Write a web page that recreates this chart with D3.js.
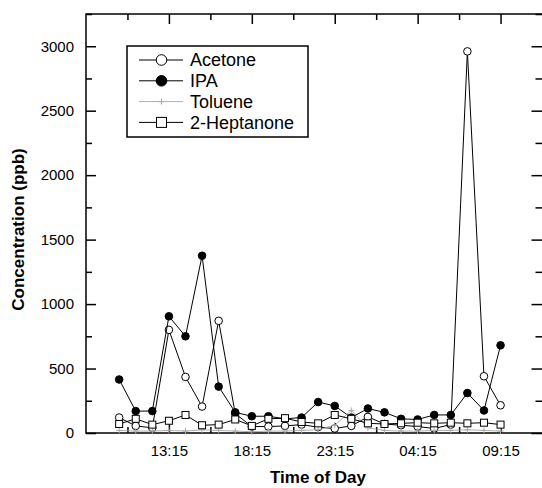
<!DOCTYPE html>
<html>
<head>
<meta charset="utf-8">
<script src="https://cdn.jsdelivr.net/npm/d3@7"></script>
<style>
  body { margin: 0; background: #fff; }
  svg { display: block; font-family: "Liberation Sans", Arial, sans-serif; }
</style>
</head>
<body>
<div id="graph"></div>
<script>
// sampling times, one per hour
const times = ["10:15","11:15","12:15","13:15","14:15","15:15","16:15","17:15","18:15","19:15","20:15","21:15",
               "22:15","23:15","00:15","01:15","02:15","03:15","04:15","05:15","06:15","07:15","08:15","09:15"];
const acetone   = [120, 55, 40, 800, 435, 205, 870, 150, 50, 50, 55, 65, 45, 35, 55, 125, 70, 60, 50, 35, 65, 2960, 440, 215];
const ipa       = [415, 170, 170, 905, 750, 1375, 360, 160, 130, 130, 110, 120, 240, 210, 120, 190, 160, 110, 105, 140, 140, 310, 175, 680];
const toluene   = [20, 15, 15, 20, 15, 25, 20, 15, 10, 15, 15, 20, 25, 60, 175, 40, 20, 15, 15, 20, 20, 25, 20, 15];
const heptanone = [70, 110, 65, 95, 140, 60, 65, 105, 55, 110, 115, 85, 75, 140, 110, 75, 70, 75, 80, 75, 80, 75, 80, 65];
const xTickLabels = ["13:15", "18:15", "23:15", "04:15", "09:15"];
const yTicks = [0, 500, 1000, 1500, 2000, 2500, 3000];

let width = 542;
let height = 488;
let plotL = 86, plotR = 543.5, plotT = 14, plotB = 433;

let svg = d3.select("#graph").append("svg").attr("width", width).attr("height", height);

// x is hours after 10:15, axis runs 08:15 .. 11:45 next day
let x = d3.scaleLinear().domain([-2, 25.5]).range([plotL, 542]);
let y = d3.scaleLinear().domain([0, 3250]).range([plotB, plotT]);

let labelPos = xTickLabels.map(function(t) { return times.indexOf(t); });
let minorX = [0.5, 5.5, 10.5, 15.5, 20.5];
let minorY = [250, 750, 1250, 1750, 2250, 2750, 3250];

function styleAxis(g) {
  g.select(".domain").remove();
  g.selectAll("line").attr("stroke", "#000").attr("stroke-width", 1.5);
  g.selectAll("text").attr("font-size", "15px").attr("fill", "#000");
}

// bottom axis with labels
svg.append("g").attr("transform", "translate(0," + plotB + ")")
  .call(d3.axisBottom(x).tickValues(labelPos).tickSize(-10).tickPadding(12)
    .tickFormat(function(d) { return times[d]; }))
  .call(styleAxis);
svg.append("g").attr("transform", "translate(0," + plotB + ")")
  .call(d3.axisBottom(x).tickValues(minorX).tickSize(-6).tickFormat(""))
  .call(styleAxis);
// top axis
svg.append("g").attr("transform", "translate(0," + plotT + ")")
  .call(d3.axisTop(x).tickValues(labelPos).tickSize(-10).tickFormat(""))
  .call(styleAxis);
svg.append("g").attr("transform", "translate(0," + plotT + ")")
  .call(d3.axisTop(x).tickValues(minorX).tickSize(-6).tickFormat(""))
  .call(styleAxis);
// left axis
svg.append("g").attr("transform", "translate(" + plotL + ",0)")
  .call(d3.axisLeft(y).tickValues(yTicks).tickSize(-10).tickPadding(12).tickFormat(d3.format("d")))
  .call(styleAxis);
svg.append("g").attr("transform", "translate(" + plotL + ",0)")
  .call(d3.axisLeft(y).tickValues(minorY).tickSize(-6).tickFormat(""))
  .call(styleAxis);
// right axis (its line sits just past the picture edge)
svg.append("g").attr("transform", "translate(" + plotR + ",0)")
  .call(d3.axisRight(y).tickValues(yTicks).tickSize(-12).tickFormat(""))
  .call(styleAxis);
svg.append("g").attr("transform", "translate(" + plotR + ",0)")
  .call(d3.axisRight(y).tickValues(minorY).tickSize(-8).tickFormat(""))
  .call(styleAxis);

// frame
svg.append("rect")
  .attr("x", plotL).attr("y", plotT)
  .attr("width", plotR - plotL).attr("height", plotB - plotT)
  .attr("fill", "none").attr("stroke", "#000").attr("stroke-width", 1.5);

// axis titles
svg.append("text")
  .attr("transform", "translate(24," + ((plotT + plotB) / 2 + 6) + ") rotate(-90)")
  .attr("text-anchor", "middle")
  .attr("font-size", "17px").attr("font-weight", "bold")
  .text("Concentration (ppb)");
svg.append("text")
  .attr("x", 318).attr("y", 483)
  .attr("text-anchor", "middle")
  .attr("font-size", "17px").attr("font-weight", "bold")
  .text("Time of Day");

let series = [
  { name: "Acetone", values: acetone, marker: "openCircle", color: "#000", lw: 1 },
  { name: "IPA", values: ipa, marker: "filledCircle", color: "#000", lw: 1 },
  { name: "Toluene", values: toluene, marker: "plus", color: "#999", lw: 0.8 },
  { name: "2-Heptanone", values: heptanone, marker: "square", color: "#000", lw: 1 }
];

function drawMarker(g, type, cx, cy, s) {
  if (type === "openCircle" || type === "filledCircle") {
    g.append("circle").attr("cx", cx).attr("cy", cy).attr("r", s)
      .attr("fill", type === "filledCircle" ? "#000" : "#fff")
      .attr("stroke", "#000").attr("stroke-width", 1);
  } else if (type === "square") {
    g.append("rect").attr("x", cx - s).attr("y", cy - s)
      .attr("width", 2 * s).attr("height", 2 * s)
      .attr("fill", "#fff").attr("stroke", "#000").attr("stroke-width", 1);
  } else {
    g.append("path").attr("d", "M" + (cx - s) + "," + cy + "H" + (cx + s) + "M" + cx + "," + (cy - s) + "V" + (cy + s))
      .attr("stroke", "#aaa").attr("stroke-width", 1);
  }
}

let line = d3.line()
  .x(function(d, i) { return x(i); })
  .y(function(d) { return y(d); });

series.forEach(function(s) {
  let g = svg.append("g");
  g.append("path").attr("d", line(s.values))
    .attr("fill", "none").attr("stroke", s.color).attr("stroke-width", s.lw);
  s.values.forEach(function(v, i) {
    drawMarker(g, s.marker, x(i), y(v), s.marker === "square" ? 3.5 : (s.marker === "plus" ? 3 : 3.8));
  });
});

// legend
let lg = svg.append("g");
lg.append("rect").attr("x", 127).attr("y", 46).attr("width", 181).attr("height", 91)
  .attr("fill", "#fff").attr("stroke", "#000").attr("stroke-width", 1.5);
series.forEach(function(s, i) {
  let ly = 60 + i * 20.8;
  lg.append("line").attr("x1", 139).attr("x2", 183).attr("y1", ly).attr("y2", ly)
    .attr("stroke", s.color).attr("stroke-width", s.lw);
  drawMarker(lg, s.marker, 161.5, ly, s.marker === "square" ? 5 : (s.marker === "plus" ? 3 : 5.3));
  lg.append("text").attr("x", 190).attr("y", ly).attr("dy", "0.35em")
    .attr("font-size", "18px").text(s.name);
});
</script>
</body>
</html>
